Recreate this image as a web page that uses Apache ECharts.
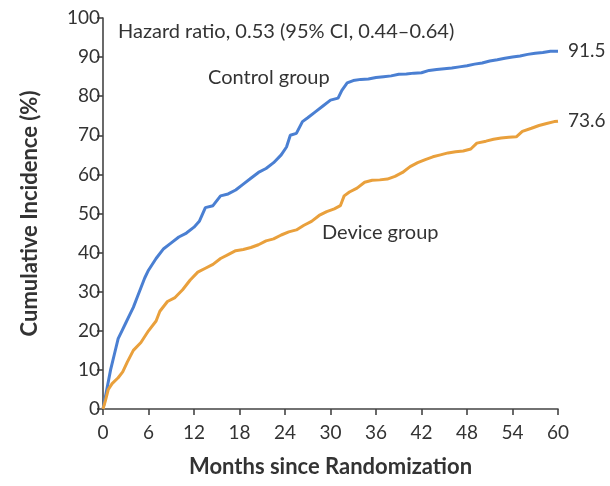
<!DOCTYPE html>
<html><head><meta charset="utf-8">
<script src="https://cdn.jsdelivr.net/npm/echarts@6/dist/echarts.min.js"></script>
<style>html,body{margin:0;padding:0;background:#fff}#c{width:610px;height:486px}</style>
</head><body><div id="c"></div>
<script>
const controlMonths = [0,0.5,1,1.5,2,2.5,3,3.5,4,4.5,5,5.5,6,7,8,9,10,11,12,12.7,13.5,14.5,15.5,16.5,17.5,18.5,19.5,20.5,21.5,22.5,23.5,24.2,24.7,25.5,26.3,27,28,29,30,31,31.5,32.2,33,34,35,36,37,38,39,40,41,42,43,44,45,46,47,48,49,50,51,52,53,54,55,56,57,58,59,60];
const controlValues = [0,5,10,14,18,20,22,24,26,28.5,31,33.5,35.5,38.5,41,42.5,44,45,46.5,48,51.5,52,54.5,55,56,57.5,59,60.5,61.5,63,65,67,70,70.5,73.5,74.5,76,77.5,79,79.5,81.5,83.4,84,84.3,84.4,84.8,85,85.2,85.6,85.7,85.9,86,86.6,86.8,87,87.2,87.5,87.8,88.2,88.5,89,89.3,89.7,90,90.3,90.7,91,91.2,91.5,91.5];
const deviceMonths = [0,0.3,0.7,1.2,2,2.6,3.2,4,5,6,7,7.5,8.5,9.5,10.5,11.5,12.5,13.5,14.5,15.5,16.5,17.5,18.5,19.5,20.5,21.5,22.5,23.5,24.5,25.5,26.5,27.5,28.5,29.5,30.5,31.3,31.8,32.5,33.5,34.5,35.5,36.5,37.5,38.5,39.5,40.5,41.5,42.5,43.5,44.5,45.5,46.5,47.5,48.5,49.3,50.5,51.5,52.5,53.5,54.5,55.3,56.5,57.5,58.5,59.5,60];
const deviceValues = [0,2,5,6.5,8,9.5,12,15,17,20,22.5,25,27.5,28.5,30.5,33,35,36,37,38.5,39.5,40.5,40.8,41.3,42,43,43.5,44.5,45.3,45.8,47,48,49.5,50.5,51.2,52,54.5,55.5,56.5,58,58.5,58.6,58.8,59.5,60.5,62,63,63.8,64.5,65,65.5,65.8,66,66.5,68,68.5,69,69.3,69.5,69.6,71,71.8,72.5,73,73.5,73.6];
const xTicks = [0,6,12,18,24,30,36,42,48,54,60];
const yTicks = [0,10,20,30,40,50,60,70,80,90,100];
const hazardText = 'Hazard ratio, 0.53 (95% CI, 0.44\u20130.64)';
const controlName = 'Control group';
const deviceName = 'Device group';
const xTitle = 'Months since Randomization';
const yTitle = 'Cumulative Incidence (%)';

const font = 'Lato';
const pair = (xs, ys) => xs.map((x, i) => [x, ys[i]]);
const chart = echarts.init(document.getElementById('c'), null, {renderer: 'canvas'});
const axisStyle = {color: '#444', width: 1.6};
const endLbl = () => ({show: true, formatter: p => p.value[1].toFixed(1), color: '#333', fontFamily: font, fontSize: 19, distance: 10});
chart.setOption({
  animation: false,
  grid: {left: 103, right: 52, top: 18, bottom: 77},
  xAxis: {type: 'value', min: 0, max: 60, interval: 6,
    name: xTitle, nameLocation: 'middle', nameGap: 47,
    nameTextStyle: {fontFamily: font, fontWeight: 'bold', fontSize: 22, color: '#333'},
    axisLine: {lineStyle: axisStyle}, axisTick: {length: 6, lineStyle: axisStyle},
    axisLabel: {fontFamily: font, fontSize: 19, color: '#333', margin: 14, formatter: v => xTicks.includes(v) ? String(v) : ''},
    splitLine: {show: false}},
  yAxis: {type: 'value', min: 0, max: 100, interval: 10,
    name: yTitle, nameLocation: 'middle', nameGap: 62, nameRotate: 90,
    nameTextStyle: {fontFamily: font, fontWeight: 'bold', fontSize: 22, color: '#333'},
    axisLine: {show: true, lineStyle: axisStyle}, axisTick: {show: true, length: 6, lineStyle: axisStyle},
    axisLabel: {fontFamily: font, fontSize: 19, color: '#333', margin: 3, formatter: v => yTicks.includes(v) ? String(v) : ''},
    splitLine: {show: false}},
  series: [
    {name: controlName, type: 'line', showSymbol: false, symbol: 'none',
     data: pair(controlMonths, controlValues), lineStyle: {color: '#4a7fd2', width: 3}, endLabel: endLbl()},
    {name: deviceName, type: 'line', showSymbol: false, symbol: 'none',
     data: pair(deviceMonths, deviceValues), lineStyle: {color: '#e9a03c', width: 3}, endLabel: endLbl()}
  ],
  graphic: [
    {type: 'text', left: 118, top: 22, style: {text: hazardText, fontFamily: font, fontSize: 20, fill: '#333'}},
    {type: 'text', left: 208, top: 68, style: {text: controlName, fontFamily: font, fontSize: 20, fill: '#333'}},
    {type: 'text', left: 322, top: 223, style: {text: deviceName, fontFamily: font, fontSize: 20, fill: '#333'}}
  ]
});
</script></body></html>
